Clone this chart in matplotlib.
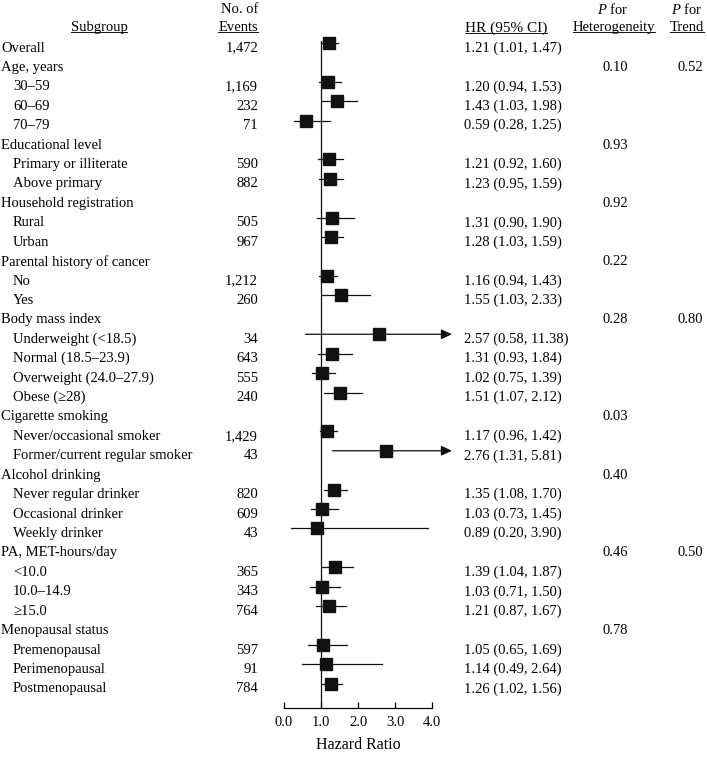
import matplotlib
matplotlib.use("Agg")
import matplotlib.pyplot as plt
from matplotlib.transforms import blended_transform_factory
from matplotlib.lines import Line2D

plt.rcParams['font.family'] = ['Liberation Serif', 'DejaVu Serif']
plt.rcParams['mathtext.fontset'] = 'custom'
plt.rcParams['mathtext.rm'] = 'Liberation Serif'
plt.rcParams['mathtext.it'] = 'Liberation Serif:italic'

# --- data ---
labels = ["Overall", "Age, years", "30–59", "60–69", "70–79",
          "Educational level", "Primary or illiterate", "Above primary",
          "Household registration", "Rural", "Urban",
          "Parental history of cancer", "No", "Yes",
          "Body mass index", "Underweight (<18.5)", "Normal (18.5–23.9)",
          "Overweight (24.0–27.9)", "Obese (≥28)",
          "Cigarette smoking", "Never/occasional smoker", "Former/current regular smoker",
          "Alcohol drinking", "Never regular drinker", "Occasional drinker", "Weekly drinker",
          "PA, MET-hours/day", "<10.0", "10.0–14.9", "≥15.0",
          "Menopausal status", "Premenopausal", "Perimenopausal", "Postmenopausal"]
indent = [0, 0, 1, 1, 1,
          0, 1, 1,
          0, 1, 1,
          0, 1, 1,
          0, 1, 1, 1, 1,
          0, 1, 1,
          0, 1, 1, 1,
          0, 1, 1, 1,
          0, 1, 1, 1]
events = ["1,472", "", "1,169", "232", "71",
          "", "590", "882",
          "", "505", "967",
          "", "1,212", "260",
          "", "34", "643", "555", "240",
          "", "1,429", "43",
          "", "820", "609", "43",
          "", "365", "343", "764",
          "", "597", "91", "784"]
hr = [1.21, None, 1.20, 1.43, 0.59,
      None, 1.21, 1.23,
      None, 1.31, 1.28,
      None, 1.16, 1.55,
      None, 2.57, 1.31, 1.02, 1.51,
      None, 1.17, 2.76,
      None, 1.35, 1.03, 0.89,
      None, 1.39, 1.03, 1.21,
      None, 1.05, 1.14, 1.26]
lo = [1.01, None, 0.94, 1.03, 0.28,
      None, 0.92, 0.95,
      None, 0.90, 1.03,
      None, 0.94, 1.03,
      None, 0.58, 0.93, 0.75, 1.07,
      None, 0.96, 1.31,
      None, 1.08, 0.73, 0.20,
      None, 1.04, 0.71, 0.87,
      None, 0.65, 0.49, 1.02]
hi = [1.47, None, 1.53, 1.98, 1.25,
      None, 1.60, 1.59,
      None, 1.90, 1.59,
      None, 1.43, 2.33,
      None, 11.38, 1.84, 1.39, 2.12,
      None, 1.42, 5.81,
      None, 1.70, 1.45, 3.90,
      None, 1.87, 1.50, 1.67,
      None, 1.69, 2.64, 1.56]
p_het = {1: "0.10", 5: "0.93", 8: "0.92", 11: "0.22", 14: "0.28",
         19: "0.03", 22: "0.40", 26: "0.46", 30: "0.78"}
p_trend = {1: "0.52", 14: "0.80", 26: "0.50"}
xticks = [0, 1, 2, 3, 4]
xticklabels = ["0.0", "1.0", "2.0", "3.0", "4.0"]

# --- layout (pixels) ---
W, H = 707, 757
row0, pitch = 48, 19.42
x0_px, unit_px = 284, 37.0
xmax = 4.6
arrow_end = 4.54
mark_shift = -0.26   # squares sit a little above the text in the original

fig = plt.figure(figsize=(W / 100, H / 100), dpi=100)
ax = fig.add_axes([x0_px / W, 0, xmax * unit_px / W, 1])
ax.set_xlim(0, xmax)
ax.set_ylim((H - row0) / pitch, -row0 / pitch)
ax.patch.set_visible(False)

fs = 10.5
col = '#111111'
tr = blended_transform_factory(fig.transFigure, ax.transData)

def fx(px):
    return px / W

# forest marks
for i, h in enumerate(hr):
    if h is None:
        continue
    y = i + mark_shift
    if hi[i] > xmax:
        ax.annotate('', xy=(arrow_end, y), xytext=(lo[i], y),
                    arrowprops=dict(arrowstyle='-|>,head_length=0.65,head_width=0.3',
                                    color=col, lw=0.9, shrinkA=0, shrinkB=0))
    else:
        ax.plot([lo[i], hi[i]], [y, y], color=col, lw=0.9)
    ax.plot(h, y, marker='s', markersize=8.4, color=col, mec=col)

# reference line at HR = 1
ax.plot([1, 1], [mark_shift - 0.1, 34], color=col, lw=0.9)

# bottom axis
for s in ['top', 'right', 'left']:
    ax.spines[s].set_visible(False)
ax.spines['bottom'].set_position(('data', 34))
ax.spines['bottom'].set_bounds(0, 4)
ax.spines['bottom'].set_linewidth(0.9)
ax.set_yticks([])
ax.set_xticks(xticks)
ax.set_xticklabels(xticklabels, fontsize=fs)
ax.tick_params(axis='x', direction='in', length=4, width=0.9, pad=5.5)
ax.text(2, 35.9, "Hazard Ratio", ha='center', va='center', fontsize=fs + 1)

# text columns
for i, lab in enumerate(labels):
    ax.text(fx(1 + 12 * indent[i]), i, lab, transform=tr, ha='left', va='center', fontsize=fs)
    if events[i]:
        ax.text(fx(258), i, events[i], transform=tr, ha='right', va='center', fontsize=fs)
    if hr[i] is not None:
        ax.text(fx(464), i, f"{hr[i]:.2f} ({lo[i]:.2f}, {hi[i]:.2f})", transform=tr,
                ha='left', va='center', fontsize=fs)
for i, p in p_het.items():
    ax.text(fx(615), i, p, transform=tr, ha='center', va='center', fontsize=fs)
for i, p in p_trend.items():
    ax.text(fx(703), i, p, transform=tr, ha='right', va='center', fontsize=fs)

# headers
ax.text(fx(258), -2.0, "No. of", transform=tr, ha='right', va='center', fontsize=fs)
ax.text(fx(613), -2.0, r"$\it{P}$ for", transform=tr, ha='center', va='center', fontsize=fs)
ax.text(fx(687), -2.0, r"$\it{P}$ for", transform=tr, ha='center', va='center', fontsize=fs)
under = [
    ax.text(fx(99), -1.03, "Subgroup", transform=tr, ha='center', va='center', fontsize=fs),
    ax.text(fx(258), -1.03, "Events", transform=tr, ha='right', va='center', fontsize=fs),
    ax.text(fx(465), -1.03, "HR (95% CI)", transform=tr, ha='left', va='center', fontsize=fs + 0.5),
    ax.text(fx(614), -1.03, "Heterogeneity", transform=tr, ha='center', va='center', fontsize=fs),
    ax.text(fx(687), -1.03, "Trend", transform=tr, ha='center', va='center', fontsize=fs),
]

# underline header words
fig.canvas.draw()
r = fig.canvas.get_renderer()
for t in under:
    bb = t.get_window_extent(r)
    y = (bb.y0 + 2) / H
    fig.add_artist(Line2D([bb.x0 / W, bb.x1 / W], [y, y], color=col, lw=0.7))

fig.savefig("out.png", dpi=100)
